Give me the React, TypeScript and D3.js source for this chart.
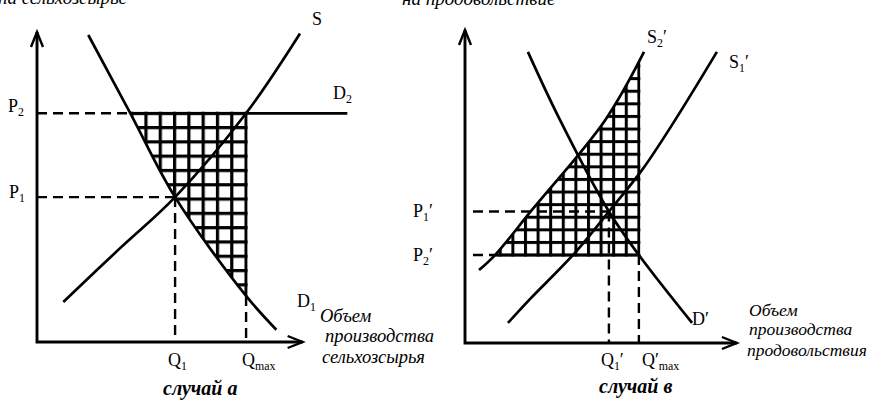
import React, { useEffect, useRef } from "react";
import * as d3 from "d3";

// случай а: сельхозсырье (q, p)
const supplyA = [[1.0, 1.3], [3.15, 3.05], [5.25, 4.72], [7.95, 7.45], [10, 10.05]];
const demandA = [[1.95, 10], [3.55, 7.45], [5.25, 4.72], [7.95, 1.5], [9.1, 0.4]];
const pricesA = [4.72, 7.45]; // P1, P2
const quantitiesA = [5.25, 7.95]; // Q1, Qmax
const d2EndA = 11.8;

// случай в: продовольствие
const supply2B = [[0.52, 2.33], [1.11, 2.81], [2.48, 4.25], [5.19, 7.12], [6.63, 9.3]];
const supply1B = [[1.59, 0.64], [2.37, 1.37], [4.07, 2.88], [5.33, 4.2], [6.56, 5.53], [7.78, 7.12], [9.33, 9.3]];
const demandB = [[2.33, 9.3], [3.48, 7.19], [5.33, 4.2], [6.44, 2.81], [8.41, 0.64]];
const pricesB = [4.2, 2.81]; // P1', P2'
const quantitiesB = [5.33, 6.44]; // Q1', Q'max

const axisTitleA = ["Объем", "производства", "сельхозсырья"];
const axisTitleB = ["Объем", "производства", "продовольствия"];
const captions = ["случай а", "случай в"];
const topNotes = ["на сельхозсырье", "на продовольствие"];

const serif = "'Liberation Serif', 'Times New Roman', serif";

const App = () => {
  const ref = useRef<SVGSVGElement>(null);

  useEffect(() => {
    draw();
  }, []);

  const draw = () => {
    const svg = d3.select(ref.current);
    svg.selectAll("*").remove();
    const defs = svg.append("defs");

    const xA = d3.scaleLinear().domain([0, 10]).range([37, 300]);
    const yA = d3.scaleLinear().domain([0, 10]).range([342, 35]);
    const xB = d3.scaleLinear().domain([0, 10]).range([465, 735]);
    const yB = d3.scaleLinear().domain([0, 10]).range([343, 30]);

    const curve = (x, y) =>
      d3
        .line<number[]>()
        .x((d) => x(d[0]))
        .y((d) => y(d[1]))
        .curve(d3.curveCatmullRom);

    const hatch = (id, cell, lw, x0, y0, region, rect) => {
      const p = defs
        .append("pattern")
        .attr("id", id)
        .attr("patternUnits", "userSpaceOnUse")
        .attr("width", cell)
        .attr("height", cell)
        .attr("x", x0 - lw / 2)
        .attr("y", y0 - lw / 2);
      p.append("rect").attr("width", lw).attr("height", cell).attr("fill", "#000");
      p.append("rect").attr("width", cell).attr("height", lw).attr("fill", "#000");
      defs.append("clipPath").attr("id", id + "-clip").append("path").attr("d", region);
      svg
        .append("g")
        .attr("clip-path", `url(#${id}-clip)`)
        .append("rect")
        .attr("x", rect[0])
        .attr("y", rect[1])
        .attr("width", rect[2] - rect[0])
        .attr("height", rect[3] - rect[1])
        .attr("fill", `url(#${id})`);
    };

    const seg = (x1, y1, x2, y2, dashed = false, w = 2.4) =>
      svg
        .append("line")
        .attr("x1", x1)
        .attr("y1", y1)
        .attr("x2", x2)
        .attr("y2", y2)
        .attr("stroke", "#000")
        .attr("stroke-width", w)
        .attr("stroke-dasharray", dashed ? "10 6" : null);

    const path = (d, w = 2.7) =>
      svg.append("path").attr("d", d).attr("fill", "none").attr("stroke", "#000").attr("stroke-width", w);

    const label = (x, y, base, sub = "", prime = "", size = 18, subFirst = true) => {
      const t = svg
        .append("text")
        .attr("x", x)
        .attr("y", y)
        .attr("font-family", serif)
        .attr("font-size", size);
      t.append("tspan").text(base);
      if (!subFirst && prime) t.append("tspan").text(prime);
      if (sub) t.append("tspan").attr("font-size", size * 0.66).attr("dy", 4).text(sub);
      if (subFirst && prime) t.append("tspan").attr("dy", sub ? -4 : 0).text(prime);
    };

    const axes = (x, y, top, right) => {
      const x0 = x(0), y0 = y(0);
      path(`M${x0},${y(top)}V${y0}H${x(right)}`, 2.9);
      path(`M${x0 - 6},${y(top) + 15}L${x0},${y(top)}L${x0 + 6},${y(top) + 15}`, 2.4);
      path(`M${x(right) - 15},${y0 - 6}L${x(right)},${y0}L${x(right) - 15},${y0 + 6}`, 2.4);
    };

    // ---------- случай а ----------
    const lineA = curve(xA, yA);
    const regionA =
      lineA(demandA) + `L${xA(12)},${yA(0.4)}L${xA(12)},${yA(10)}Z`;
    hatch("hA", 14.3, 3.2, xA(quantitiesA[1]), yA(pricesA[1]), regionA, [
      xA(0),
      yA(pricesA[1]) - 1.6,
      xA(quantitiesA[1]) + 1.6,
      yA(0),
    ]);

    // P1, P2 guides
    seg(xA(0), yA(pricesA[0]), xA(quantitiesA[0]), yA(pricesA[0]), true);
    seg(xA(0), yA(pricesA[1]), xA(demandA[1][0]), yA(pricesA[1]), true);
    seg(xA(demandA[1][0]), yA(pricesA[1]), xA(d2EndA), yA(pricesA[1]), false, 2.7);
    seg(xA(quantitiesA[0]), yA(pricesA[0]), xA(quantitiesA[0]), yA(0), true);
    seg(xA(quantitiesA[1]), yA(demandA[3][1]), xA(quantitiesA[1]), yA(0), true);

    path(lineA(supplyA));
    path(lineA(demandA));
    axes(xA, yA, 10.1, 10.1);

    label(8, yA(pricesA[1]) - 1, "P", "2");
    label(9, yA(pricesA[0]) + 1, "P", "1");
    label(xA(quantitiesA[0]) - 7, 366, "Q", "1");
    label(xA(quantitiesA[1]) - 4, 366, "Q", "max");
    label(312, 25, "S");
    label(333, 99, "D", "2");
    label(297, 307, "D", "1");

    axisTitleA.forEach((t, i) =>
      svg
        .append("text")
        .attr("x", [320, 325, 322][i])
        .attr("y", [322, 342, 363][i])
        .attr("font-family", serif)
        .attr("font-style", "italic")
        .attr("font-size", 18.5)
        .text(t)
    );

    // ---------- случай в ----------
    const lineB = curve(xB, yB);
    const regionB =
      lineB(supply2B) + `L${xB(12)},${yB(9.3)}L${xB(12)},${yB(0)}L${xB(0.52)},${yB(0)}Z`;
    hatch("hB", 12.6, 3.0, xB(quantitiesB[1]), yB(pricesB[1]), regionB, [
      xB(0),
      yB(10),
      xB(quantitiesB[1]) + 1.5,
      yB(pricesB[1]) + 1.5,
    ]);

    seg(xB(0) + 8, yB(pricesB[0]), xB(quantitiesB[0]), yB(pricesB[0]), true);
    seg(xB(0) + 8, yB(pricesB[1]), xB(supply2B[1][0]), yB(pricesB[1]), true);
    seg(xB(supply2B[1][0]), yB(pricesB[1]), xB(quantitiesB[1]), yB(pricesB[1]), false, 2.7);
    seg(xB(quantitiesB[0]), yB(pricesB[0]), xB(quantitiesB[0]), yB(0), true);
    seg(xB(quantitiesB[1]), yB(pricesB[1]), xB(quantitiesB[1]), yB(0), true);

    path(lineB(supply2B));
    path(lineB(supply1B));
    path(lineB(demandB));
    axes(xB, yB, 10, 10.07);

    label(413, yB(pricesB[0]) + 5, "P", "1", "′");
    label(413, yB(pricesB[1]) + 6, "P", "2", "′");
    label(xB(quantitiesB[0]) - 8, 366, "Q", "1", "′");
    label(xB(quantitiesB[1]) + 3, 366, "Q", "max", "′", 18, false);
    label(647, 43, "S", "2", "′");
    label(729, 68, "S", "1", "′");
    label(692, 325, "D", "", "′");

    axisTitleB.forEach((t, i) =>
      svg
        .append("text")
        .attr("x", [749, 749, 747][i])
        .attr("y", [316, 335, 356][i])
        .attr("font-family", serif)
        .attr("font-style", "italic")
        .attr("font-size", 17.5)
        .text(t)
    );

    // captions
    captions.forEach((t, i) =>
      svg
        .append("text")
        .attr("x", [163, 599][i])
        .attr("y", [395, 393][i])
        .attr("font-family", serif)
        .attr("font-style", "italic")
        .attr("font-weight", "bold")
        .attr("font-size", 20)
        .text(t)
    );

    topNotes.forEach((t, i) =>
      svg
        .append("text")
        .attr("x", [-2, 402][i])
        .attr("y", [4, 5][i])
        .attr("font-family", serif)
        .attr("font-style", "italic")
        .attr("font-size", 19)
        .text(t)
    );
  };

  return (
    <svg
      ref={ref}
      width={884}
      height={414}
      style={{ position: "absolute", left: 0, top: 0, background: "#fff" }}
    />
  );
};

export default App;
